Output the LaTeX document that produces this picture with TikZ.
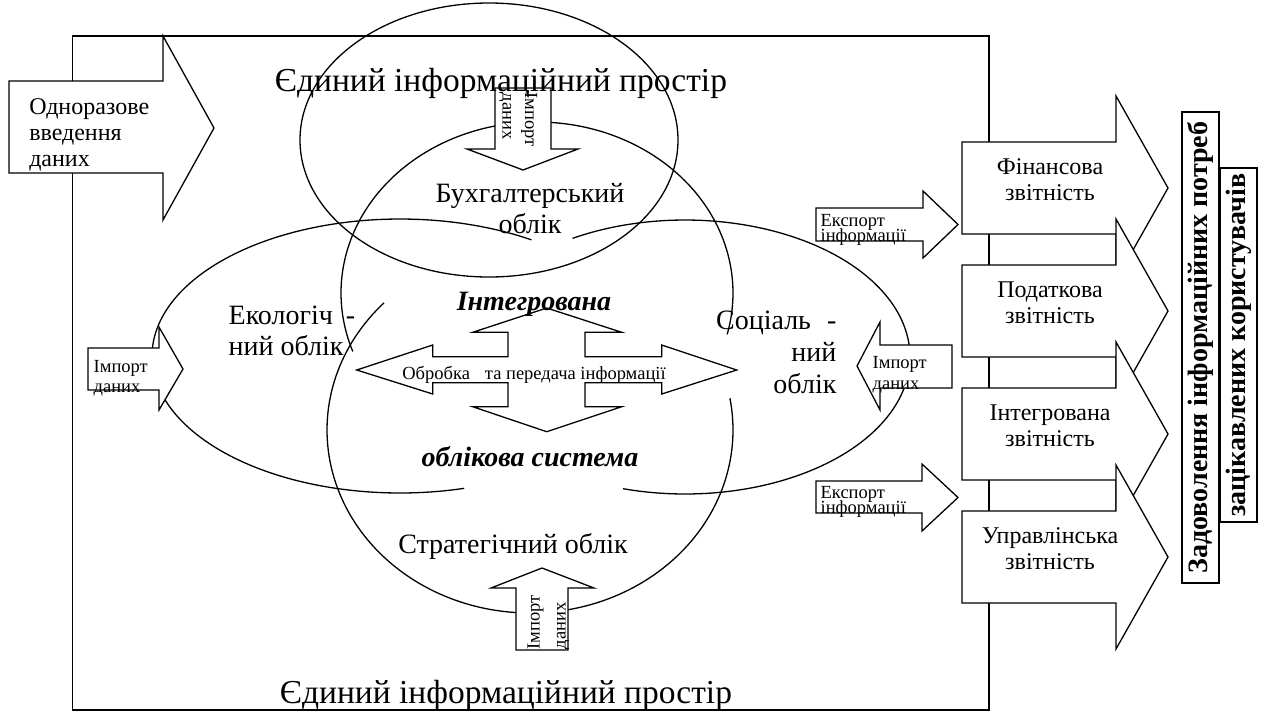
\documentclass[tikz,border=0pt]{standalone}
\usepackage{fontspec}
\setmainfont{Liberation Serif}
\newcommand{\fsz}[2]{\fontsize{#1pt}{#2pt}\selectfont}
\newcommand{\stL}[2]{\vtop{\baselineskip=#1pt\lineskiplimit=-1000pt\lineskip=0pt\halign{##\hfil\cr#2\crcr}}}
\newcommand{\stC}[2]{\vtop{\baselineskip=#1pt\lineskiplimit=-1000pt\lineskip=0pt\halign{\hfil##\hfil\cr#2\crcr}}}
\newcommand{\stR}[2]{\vtop{\baselineskip=#1pt\lineskiplimit=-1000pt\lineskip=0pt\halign{\hfil##\cr#2\crcr}}}
\begin{document}
\begin{tikzpicture}[x=1pt,y=-1pt,line width=1.3pt,line join=miter,
  wfill/.style={draw,fill=white},
  ttl/.style={inner sep=0pt,font=\fsz{33.5}{40}},
  lab/.style={inner sep=0pt,font=\fsz{28}{32}},
  bit/.style={inner sep=0pt,font=\fsz{28}{32}\bfseries\itshape},
  mid/.style={inner sep=0pt,font=\fsz{24}{26}},
  sml/.style={inner sep=0pt,font=\fsz{18.5}{20}},
  vbx/.style={draw,line width=2.4pt,rotate=90,inner sep=0pt,minimum height=37pt,font=\fsz{28}{32}\bfseries}]
\useasboundingbox (0,0) rectangle (1268,713);
% outer frame
\draw (72.5,36) rectangle (989,710);
% ellipses and arcs
\draw (489,140) ellipse [x radius=189pt, y radius=137pt];
\draw plot[domain=160:374,samples=140] ({537+196*cos(\x)},{293+171*sin(\x)});
\draw plot[domain=-10:224,samples=140] ({530+203*cos(\x)},{430+183*sin(\x)});
\draw plot[domain=75:302,samples=140] ({400+248*cos(\x)},{356+137*sin(\x)});
\draw plot[domain=240:466,samples=140] ({685+225*cos(\x)},{357+137*sin(\x)});
% arrows
\draw[wfill] (9,81) -- (163,81) -- (163,36) -- (214,128) -- (163,220) -- (163,173) -- (9,173) -- cycle;
\draw[wfill] (495,88) -- (551,88) -- (551,149) -- (578,149) -- (523,170) -- (467,149) -- (495,149) -- cycle;
\draw[wfill] (516,650) -- (516,588) -- (491,588) -- (542,568) -- (594,588) -- (568,588) -- (568,650) -- cycle;
\draw[wfill] (88,348) -- (159,348) -- (159,327) -- (183,369) -- (159,410) -- (159,390) -- (88,390) -- cycle;
\draw[wfill] (952,345) -- (880,345) -- (880,322) -- (857,366) -- (880,410) -- (880,388) -- (952,388) -- cycle;
\draw[wfill] (816,208) -- (923,208) -- (923,191) -- (958,224.5) -- (923,258) -- (923,241) -- (816,241) -- cycle;
\draw[wfill] (816,481) -- (922,481) -- (922,464) -- (958,497.5) -- (922,531) -- (922,513) -- (816,513) -- cycle;
% central four-way arrow
\draw[wfill] (356.7,370) -- (432.7,345) -- (432.7,356.7) -- (508,356.7) -- (508,332.3) -- (472.7,332.3)
  -- (546.7,308) -- (621.7,332.3) -- (585,332.3) -- (585,356.7) -- (661.7,356.7) -- (661.7,345)
  -- (736.7,370) -- (661.7,394) -- (661.7,382.7) -- (585,382.7) -- (585,406.7) -- (621.7,406.7)
  -- (546.7,431.7) -- (472.7,406.7) -- (508,406.7) -- (508,382.7) -- (432.7,382.7) -- (432.7,394) -- cycle;
% right stack of report arrows
\foreach \T in {142,265,388,511}{
  \draw[wfill] (962,\T) -- (1116,\T) -- (1116,\T-46) -- (1168,\T+46) -- (1116,\T+138) -- (1116,\T+92) -- (962,\T+92) -- cycle;
}
% titles
\node[ttl,anchor=base] (ttop) at (501,91) {Єдиний інформаційний простір};
\node[ttl,anchor=base] (tbot) at (506,703) {Єдиний інформаційний простір};
% labels
\node[mid,anchor=base west] (odn) at (28.6,114) {\stL{26}{Одноразове\cr введення\cr даних}};
\node[lab,anchor=base] (buh) at (530,202) {\stC{31.5}{Бухгалтерський\cr облік}};
\node[lab,anchor=base west] (eko) at (228,324) {\stL{31}{Екологіч\hspace{13pt}-\cr ний облік}};
\node[lab,anchor=base east] (soc) at (837,329) {\stR{32}{Соціаль\hspace{16pt}-\cr ний\cr облік}};
\node[lab,anchor=base] (str) at (513,553) {Стратегічний облік};
\node[bit,anchor=base] (int) at (534,310) {Інтегрована};
\node[bit,anchor=base] (obs) at (530,466) {облікова система};
\node[sml,anchor=base west] (obr) at (401.7,379) {Обробка\hspace{15pt}та передача інформації};
% small arrow texts
\node[sml,anchor=base west] (impl) at (93,372) {\stL{20}{Імпорт\cr даних}};
\node[sml,anchor=base west] (impr) at (872,368) {\stL{21}{Імпорт\cr даних}};
\node[sml,anchor=base west,rotate=-90] (impt) at (525,92) {\stL{22.5}{Імпорт\cr даних}};
\node[sml,anchor=base west,rotate=90] (impb) at (539.5,650) {\stL{26}{Імпорт\cr даних}};
\node[sml,anchor=base west] (exp1) at (820,226) {\stL{15}{Експорт\cr інформації}};
\node[sml,anchor=base west] (exp2) at (820,498) {\stL{15}{Експорт\cr інформації}};
% report texts
\node[mid,anchor=base] (fin) at (1050,174.8) {\stC{25.5}{Фінансова\cr звітність}};
\node[mid,anchor=base] (pod) at (1050,297.8) {\stC{25.5}{Податкова\cr звітність}};
\node[mid,anchor=base] (itg) at (1050,420.8) {\stC{25.5}{Інтегрована\cr звітність}};
\node[mid,anchor=base] (upr) at (1050,543.8) {\stC{25.5}{Управлінська\cr звітність}};
% vertical framed texts
\node[vbx,minimum width=471pt] (zad) at (1200.5,347.5) {Задоволення інформаційних потреб};
\node[vbx,minimum width=354pt] (zac) at (1238.5,345) {зацікавлених користувачів};
\end{tikzpicture}
\end{document}
